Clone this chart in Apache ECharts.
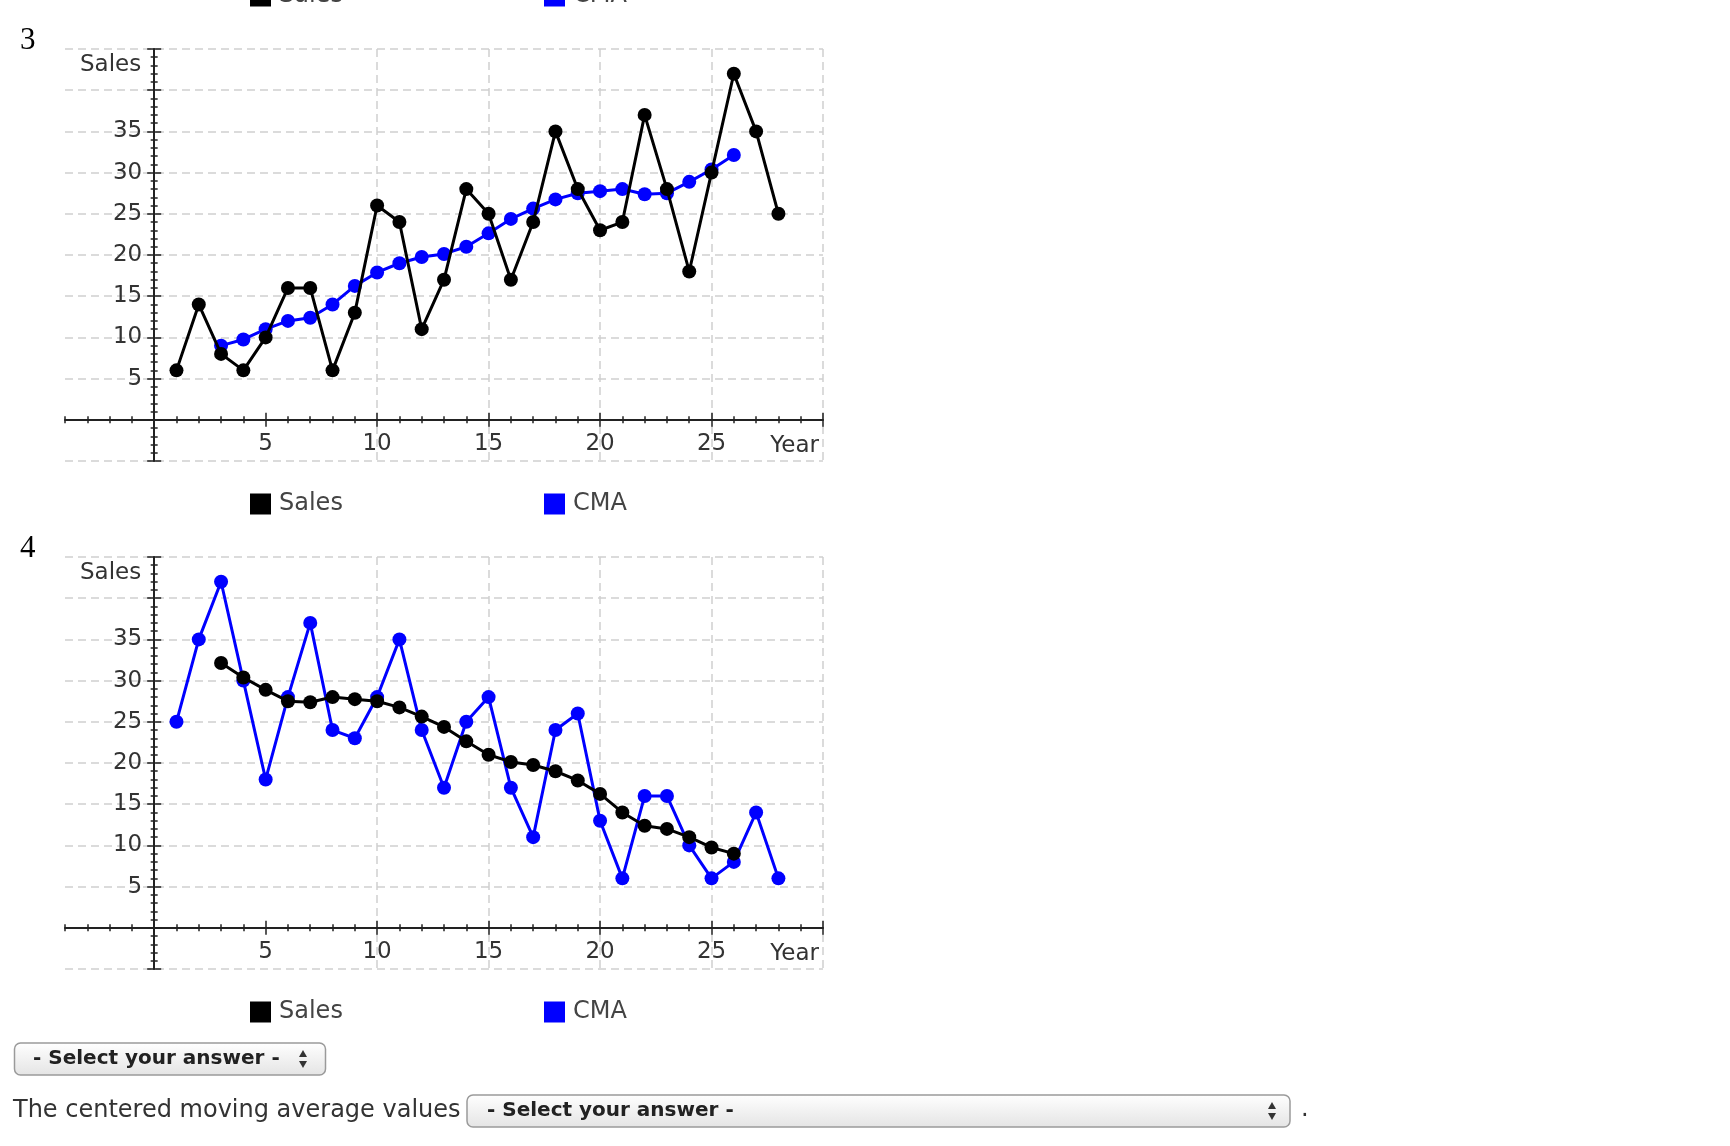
<!DOCTYPE html>
<html>
<head>
<meta charset="utf-8">
<script src="https://cdn.jsdelivr.net/npm/echarts@6/dist/echarts.min.js"></script>
<style>
html,body{margin:0;padding:0;background:#fff;}
#c{width:1730px;height:1146px;}
</style>
</head>
<body>
<div id="c"></div>
<script>
// ---- data ----
const years = [1,2,3,4,5,6,7,8,9,10,11,12,13,14,15,16,17,18,19,20,21,22,23,24,25,26,27,28];
const cmaYears = [3,4,5,6,7,8,9,10,11,12,13,14,15,16,17,18,19,20,21,22,23,24,25,26];
// chart 3
const sales3 = [6,14,8,6,10,16,16,6,13,26,24,11,17,28,25,17,24,35,28,23,24,37,28,18,30,42,35,25];
const cma3 = [9,9.75,11,12,12.38,14,16.25,17.88,19,19.75,20.13,21,22.63,24.38,25.63,26.75,27.5,27.75,28,27.38,27.5,28.88,30.38,32.13];
// chart 4 (black "Sales" line is the smooth one, blue "CMA" the jagged one)
const sales4 = [32.13,30.38,28.88,27.5,27.38,28,27.75,27.5,26.75,25.63,24.38,22.63,21,20.13,19.75,19,17.88,16.25,14,12.38,12,11,9.75,9];
const cma4 = [25,35,42,30,18,28,37,24,23,28,35,24,17,25,28,17,11,24,26,13,6,16,16,10,6,8,14,6];
const xTickLabels = [5,10,15,20,25];
const yTickLabels = [5,10,15,20,25,30,35];
const xMajor = [5,10,15,20,25,30];

const AX = '#222';
const FONT = 'DejaVu Sans';
const gridTops = [49, 557];
const GL = 65, GW = 758, GH = 412;

function pairs(xs, ys){ return xs.map((x,i)=>[x, ys[i]]); }

function buildOption(offsets, withNames){
  const grids = gridTops.map(t => ({left:GL, top:t, width:GW, height:GH, outerBoundsMode:'none'}));
  const xAxes = [], yAxes = [];
  gridTops.forEach((t,g) => {
    const off = offsets[g];
    const common = {gridIndex:g, type:'value', min:-4, max:30};
    xAxes.push(Object.assign({}, common, {
      position:'bottom', interval:1, offset:off.x,
      name: withNames ? 'Year' : '', nameLocation:'end', nameGap:0,
      nameTextStyle:{align:'right', verticalAlign:'top', padding:[15,4,0,0], fontSize:23, color:'#333', fontFamily:FONT},
      axisLine:{show:true, onZero:false, lineStyle:{color:AX, width:2}},
      axisTick:{show:true, length:3.5, lineStyle:{color:AX, width:1.5}},
      axisLabel:{show:true, margin:13, fontSize:23, color:'#333', fontFamily:FONT,
        formatter: v => xTickLabels.indexOf(v) >= 0 ? String(v) : ''},
      splitLine:{show:false}
    }));
    xAxes.push(Object.assign({}, common, {
      position:'top', interval:1,
      axisLine:{show:false, onZero:true, onZeroAxisIndex:2*g},
      axisTick:{show:true, length:3.5, lineStyle:{color:AX, width:1.5}},
      axisLabel:{show:false}, splitLine:{show:false}
    }));
    xAxes.push(Object.assign({}, common, {
      position:'bottom', splitNumber:7,
      axisLine:{show:false, onZero:true, onZeroAxisIndex:2*g},
      axisTick:{show:true, length:7, customValues:xMajor, lineStyle:{color:AX, width:1.5}},
      axisLabel:{show:false},
      splitLine:{show:true, showMinLine:false, lineStyle:{color:'#cfcfcf', width:1.5, type:[8,5]}}
    }));
    xAxes.push(Object.assign({}, common, {
      position:'top', splitNumber:7,
      axisLine:{show:false, onZero:true, onZeroAxisIndex:2*g},
      axisTick:{show:true, length:7, customValues:xMajor, lineStyle:{color:AX, width:1.5}},
      axisLabel:{show:false}, splitLine:{show:false}
    }));
    const ycommon = {gridIndex:g, type:'value', min:-5, max:45, interval:5};
    yAxes.push(Object.assign({}, ycommon, {
      position:'left', offset:off.y,
      name: withNames ? 'Sales' : '', nameLocation:'end', nameGap:-5,
      nameTextStyle:{align:'right', verticalAlign:'top', padding:[0,13,0,0], fontSize:23, color:'#333', fontFamily:FONT},
      axisLine:{show:true, onZero:false, lineStyle:{color:AX, width:2}},
      axisTick:{show:true, length:7, lineStyle:{color:AX, width:1.5}},
      minorTick:{show:true, splitNumber:5, length:3.5, lineStyle:{color:AX, width:1.5}},
      axisLabel:{show:true, margin:12, fontSize:23, color:'#333', fontFamily:FONT, padding:[3,0,0,0],
        formatter: v => yTickLabels.indexOf(v) >= 0 ? String(v) : ''},
      splitLine:{show:true, lineStyle:{color:'#cfcfcf', width:1.5, type:[8,5]}}
    }));
    yAxes.push(Object.assign({}, ycommon, {
      position:'right',
      axisLine:{show:false, onZero:true, onZeroAxisIndex:4*g},
      axisTick:{show:true, length:7, lineStyle:{color:AX, width:1.5}},
      minorTick:{show:true, splitNumber:5, length:3.5, lineStyle:{color:AX, width:1.5}},
      axisLabel:{show:false}, splitLine:{show:false}
    }));
  });

  function lineSeries(name, color, data, g){
    return {
      name:name, type:'line', xAxisIndex:4*g, yAxisIndex:2*g, data:data,
      symbol:'circle', symbolSize:14, showSymbol:true,
      lineStyle:{color:color, width:3}, itemStyle:{color:color},
      emphasis:{disabled:true}, silent:true, z: color === '#000000' ? 4 : 3
    };
  }
  const BLUE = '#0000ff', BLACK = '#000000';
  const series = [
    lineSeries('CMA', BLUE, pairs(cmaYears, cma3), 0),
    lineSeries('Sales', BLACK, pairs(years, sales3), 0),
    lineSeries('CMA', BLUE, pairs(years, cma4), 1),
    lineSeries('Sales', BLACK, pairs(cmaYears, sales4), 1)
  ];

  function legend(name, left, top){
    return {data:[name], left:left, top:top, icon:'rect', itemWidth:21, itemHeight:21,
      selectedMode:false, padding:0,
      textStyle:{fontSize:24, color:'#444', fontFamily:FONT, padding:[0,0,0,3]}};
  }
  const legends = [
    legend('Sales', 250, -16), legend('CMA', 544, -16),
    legend('Sales', 250, 492), legend('CMA', 544, 492),
    legend('Sales', 250, 1000), legend('CMA', 544, 1000)
  ];

  const grad = {type:'linear', x:0, y:0, x2:0, y2:1, colorStops:[{offset:0,color:'#ffffff'},{offset:1,color:'#e4e4e4'}]};
  function dropdown(x, y, w, tx, ax){
    return [
      {type:'rect', shape:{x:x, y:y, width:w, height:32, r:6}, style:{fill:grad, stroke:'#9a9a9a', lineWidth:1.5}},
      {type:'text', x:tx, y:y+16, style:{text:'- Select your answer -', font:'bold 20px "DejaVu Sans"', fill:'#222', verticalAlign:'middle'}},
      {type:'polygon', shape:{points:[[ax-4,y+14],[ax+4,y+14],[ax,y+7]]}, style:{fill:'#333'}},
      {type:'polygon', shape:{points:[[ax-4,y+18],[ax+4,y+18],[ax,y+25]]}, style:{fill:'#333'}}
    ];
  }
  const graphics = [
    {type:'text', x:20, y:41, style:{text:'3', font:'31px "Liberation Serif"', fill:'#000', verticalAlign:'middle'}},
    {type:'text', x:20, y:549, style:{text:'4', font:'31px "Liberation Serif"', fill:'#000', verticalAlign:'middle'}},
    {type:'text', x:13, y:1111, style:{text:'The centered moving average values', font:'24px "DejaVu Sans"', fill:'#333', verticalAlign:'middle'}},
    {type:'text', x:1301, y:1110, style:{text:'.', font:'24px "DejaVu Sans"', fill:'#333', verticalAlign:'middle'}}
  ].concat(dropdown(14.5, 1043, 311, 33, 303), dropdown(467, 1095, 823, 487, 1272));

  return {
    animation:false,
    backgroundColor:'#ffffff',
    grid:grids, xAxis:xAxes, yAxis:yAxes,
    legend:legends, series:series, graphic:graphics
  };
}

const chart = echarts.init(document.getElementById('c'), null, {renderer:'canvas'});
// first pass (no axis names): find where value 0 sits on each grid, then move the labelled axes onto it
chart.setOption(buildOption([{x:0,y:0},{x:0,y:0}], false));
const offsets = gridTops.map((t,g) => {
  const p = chart.convertToPixel({xAxisIndex:4*g, yAxisIndex:2*g}, [0, 0]);
  return {x: p[1] - (t + GH), y: GL - p[0]};
});
chart.setOption(buildOption(offsets, true), true);
</script>
</body>
</html>
